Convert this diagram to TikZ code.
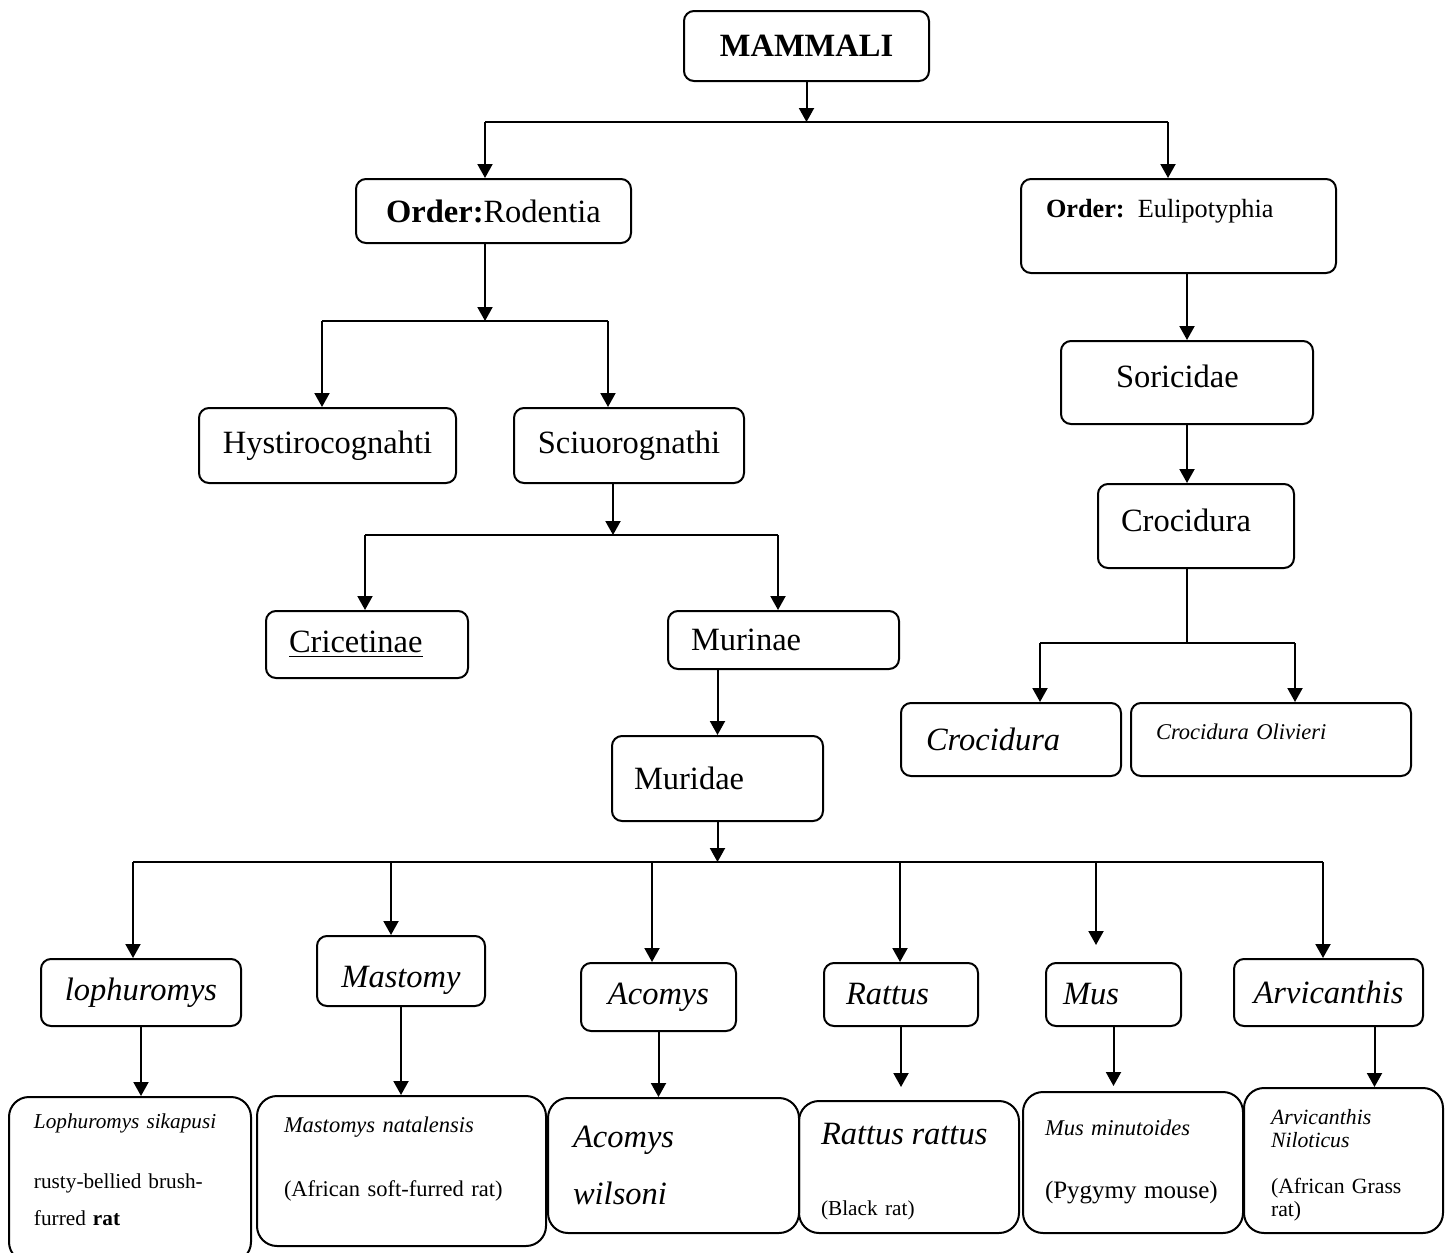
\documentclass[tikz,border=0pt]{standalone}
\usepackage{fontspec}
\setmainfont{Liberation Serif}
\usepackage{tikz}
\usetikzlibrary{arrows.meta}
\newcommand{\taxfont}{\fontsize{13}{15.6}\selectfont}
\newcommand{\notefont}{\fontsize{9}{11}\selectfont}

\begin{document}
\begin{tikzpicture}[
        x=0.4pt,y=-0.4pt,
        box/.style n args={4}{draw,thick,rounded corners=4pt,anchor=north west,
          minimum width=#1*0.4pt,minimum height=#2*0.4pt,inner xsep=#3*0.4pt,
          text width={(#1-2*#3)*0.4pt},align=#4,font=\taxfont},
        sp/.style={rounded corners=8pt,font=\notefont},
        arrow/.style={-{Triangle[length=5.6pt,width=6pt]},thick},
        bus/.style={thick}
      ]
        \useasboundingbox (0,0) rectangle (1447,1253);
        \node[box={245}{70}{10}{center},font=\taxfont\bfseries] (mammali) at (683,10) {MAMMALI};
        \node[box={275}{64}{10}{center}] (rodentia) at (355,178) {\textbf{Order:}Rodentia};
        \node[box={315}{94}{25}{left},font=\fontsize{10.5}{12}\selectfont,text depth=14pt] (eulipo)
          at (1020,178) {\textbf{Order:} Eulipotyphia};
        \node[box={257}{75}{10}{center}] (hystiro) at (198,407) {Hystirocognahti};
        \node[box={230}{75}{10}{center}] (sciuoro) at (513,407) {Sciuorognathi};
        \node[box={202}{67}{23}{left}] (cricet) at (265,610) {\underline{Cricetinae}};
        \node[box={231}{58}{23}{left}] (murinae) at (667,610) {Murinae};
        \node[box={211}{85}{22}{left}] (muridae) at (611,735) {Muridae};
        \node[box={252}{83}{55}{left},text depth=5pt] (soricidae) at (1060,340) {Soricidae};
        \node[box={196}{84}{23}{left},text depth=5pt] (crocgen) at (1097,483) {Crocidura};
        \node[box={220}{73}{25}{left},font=\taxfont\itshape] (croc) at (900,702) {Crocidura};
        \node[box={280}{73}{25}{left},font=\notefont\itshape,text depth=6pt] (olivieri)
          at (1130,702) {Crocidura Olivieri};

        \node[box={200}{67}{10}{center},font=\taxfont\itshape] (lophuromys) at (40,958) {lophuromys};
        \node[box={168}{70}{10}{center},font=\taxfont\itshape,text height=15pt,text depth=2pt,
          inner ysep=2pt] (mastomy) at (316,935) {Mastomy};
        \node[box={155}{68}{10}{center},font=\taxfont\itshape] (acomys) at (580,962) {Acomys};
        \node[box={154}{63}{22}{left},font=\taxfont\itshape] (rattus) at (823,962) {Rattus};
        \node[box={135}{63}{17}{left},font=\taxfont\itshape] (mus) at (1045,962) {Mus};
        \node[box={189}{67}{10}{center},font=\taxfont\itshape] (arvicanthis) at (1233,958) {Arvicanthis};

        \node[box={242}{165}{25}{left},sp,font=\fontsize{8.5}{14.8}\selectfont,text depth=47pt]
          (lophuromys-sp) at (8,1096)
          {\textit{Lophuromys sikapusi}\\[9.2pt]rusty-bellied brush-\\furred \textbf{rat}};
        \node[box={289}{150}{27}{left},sp,text depth=37pt] (mastomy-sp) at (256,1095)
          {\textit{Mastomys natalensis}\\[14.6pt](African soft-furred rat)};
        \node[box={251}{135}{25}{left},sp,font=\fontsize{13}{22.8}\selectfont\itshape] (acomys-sp)
          at (547,1097) {Acomys\\wilsoni};
        \node[box={220}{132}{22}{left},sp,text height=12pt] (rattus-sp) at (798,1100)
          {{\taxfont\itshape Rattus rattus}\\[17.4pt]{\fontsize{8.5}{11}\selectfont(Black rat)}};
        \node[box={220}{141}{22}{left},sp,text height=6pt] (mus-sp) at (1022,1091)
          {\textit{Mus minutoides}\\[14.2pt]{\fontsize{10}{11}\selectfont(Pygymy mouse)}};
        \node[box={199}{145}{27}{left},sp,font=\fontsize{8.7}{9.2}\selectfont,text height=10pt]
          (arvicanthis-sp) at (1243,1087)
          {\textit{Arvicanthis}\\\textit{Niloticus}\\[9.2pt](African Grass\\rat)};

        \coordinate (top-l) at (485,122);
        \coordinate (top-r) at (1168,122);
        \draw[arrow] (mammali) -- (mammali |- top-l);
        \draw[bus] (top-l) -- (top-r);
        \draw[arrow] (top-l) -- (top-l |- rodentia.north);
        \draw[arrow] (top-r) -- (top-r |- eulipo.north);

        \coordinate (rod-m) at (485,321);
        \coordinate (rod-l) at (322,321);
        \coordinate (rod-r) at (608,321);
        \draw[arrow] (rod-m |- rodentia.south) -- (rod-m);
        \draw[bus] (rod-l) -- (rod-r);
        \draw[arrow] (rod-l) -- (rod-l |- hystiro.north);
        \draw[arrow] (rod-r) -- (rod-r |- sciuoro.north);

        \coordinate (sci-m) at (613,535);
        \coordinate (sci-l) at (365,535);
        \coordinate (sci-r) at (778,535);
        \draw[arrow] (sci-m |- sciuoro.south) -- (sci-m);
        \draw[bus] (sci-l) -- (sci-r);
        \draw[arrow] (sci-l) -- (sci-l |- cricet.north);
        \draw[arrow] (sci-r) -- (sci-r |- murinae.north);
        \draw[arrow] (murinae.south -| muridae.north) -- (muridae.north);

        \coordinate (gen-l) at (133,862);
        \coordinate (gen-r) at (1323,862);
        \draw[arrow] (muridae) -- (muridae |- gen-l);
        \draw[bus] (gen-l) -- (gen-r);
        \foreach \x/\n/\s in {133/lophuromys/0pt,391/mastomy/0pt,652/acomys/0pt,
            900/rattus/0pt,1096/mus/6.8pt,1323/arvicanthis/0pt}{
          \path (\x,862) coordinate (drop-\n);
          \draw[arrow,shorten >=\s] (drop-\n) -- (drop-\n |- \n.north);
        }
        \foreach \n/\s in {lophuromys/0pt,mastomy/0pt,acomys/0pt,rattus/5.2pt,mus/2pt}
          \draw[arrow,shorten >=\s] (\n.south) -- (\n.south |- \n-sp.north);
        \coordinate (arv-drop) at ([xshift=18.4pt]arvicanthis.south);
        \draw[arrow] (arv-drop) -- (arv-drop |- arvicanthis-sp.north);

        \draw[arrow] (soricidae.north |- eulipo.south) -- (soricidae.north);
        \draw[arrow] (soricidae.south) -- (soricidae.south |- crocgen.north);
        \coordinate (croc-m) at (1187,643);
        \coordinate (croc-l) at (1040,643);
        \coordinate (croc-r) at (1295,643);
        \draw[bus] (croc-m |- crocgen.south) -- (croc-m);
        \draw[bus] (croc-l) -- (croc-r);
        \draw[arrow] (croc-l) -- (croc-l |- croc.north);
        \draw[arrow] (croc-r) -- (croc-r |- olivieri.north);
      \end{tikzpicture}
\end{document}
